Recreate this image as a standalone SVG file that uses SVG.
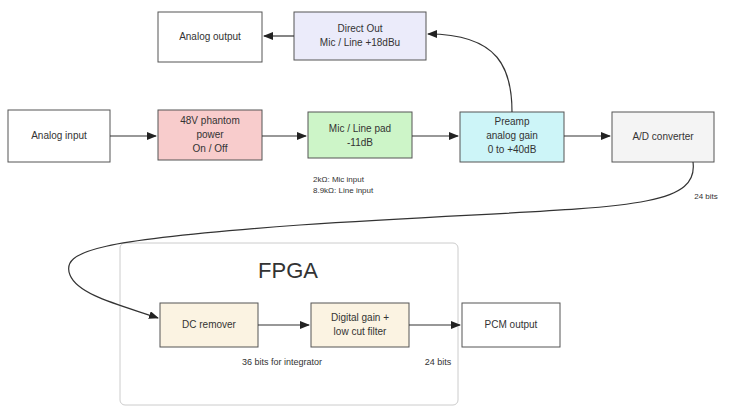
<svg xmlns="http://www.w3.org/2000/svg" width="731" height="412" viewBox="0 0 731 412">
<defs>
<marker id="ah" markerWidth="10" markerHeight="8" refX="9" refY="4" orient="auto" markerUnits="userSpaceOnUse"><path d="M0,0 L10,4 L0,8 z" fill="#222"/></marker>
<style>
.b{stroke:#555;stroke-width:1}
text{font-family:"Liberation Sans",Arial,sans-serif;font-size:10px;fill:#333;text-anchor:middle}
.c{fill:none;stroke:#333;stroke-width:1.2;marker-end:url(#ah)}
.s{font-size:8px;text-anchor:start}
</style>
</defs>
<rect width="731" height="412" fill="#fff"/>
<g id="fpga"><rect x="120" y="243" width="338" height="162" rx="5" fill="#fff" stroke="#ccc"/><text x="288" y="278" style="font-size:22px">FPGA</text></g>
<g id="analog-output"><rect class="b" x="158" y="12" width="104" height="50" fill="#fff"/><text x="210" y="40">Analog output</text></g>
<g id="direct-out"><rect class="b" x="294" y="12" width="132" height="48" fill="#ebebfa"/><text x="360" y="32">Direct Out</text><text x="360" y="46">Mic / Line +18dBu</text></g>
<g id="analog-input"><rect class="b" x="8" y="110" width="102" height="52" fill="#fff"/><text x="59" y="139">Analog input</text></g>
<g id="phantom"><rect class="b" x="158" y="110" width="104" height="50" fill="#f8cccc"/><text x="210" y="124">48V phantom</text><text x="210" y="138">power</text><text x="210" y="152">On / Off</text></g>
<g id="pad"><rect class="b" x="308" y="112" width="104" height="46" fill="#cdf5c8"/><text x="360" y="132">Mic / Line pad</text><text x="360" y="146">-11dB</text></g>
<g id="preamp"><rect class="b" x="460" y="112" width="104" height="50" fill="#cdf5f8"/><text x="512" y="125">Preamp</text><text x="512" y="139">analog gain</text><text x="512" y="153">0 to +40dB</text></g>
<g id="adc"><rect class="b" x="612" y="112" width="102" height="50" fill="#f4f4f4"/><text x="663" y="140">A/D converter</text></g>
<g id="dc"><rect class="b" x="160" y="303" width="98" height="44" fill="#fbf3e2"/><text x="209" y="328">DC remover</text></g>
<g id="dgain"><rect class="b" x="311" y="303" width="98" height="44" fill="#fbf3e2"/><text x="360" y="321">Digital gain +</text><text x="360" y="335">low cut filter</text></g>
<g id="pcm"><rect class="b" x="462" y="303" width="98" height="44" fill="#fff"/><text x="511" y="328">PCM output</text></g>
<g id="labels">
<text class="s" x="313" y="182">2kΩ: Mic input</text>
<text class="s" x="313" y="193">8.9kΩ: Line input</text>
<text x="706" y="199" style="font-size:8px">24 bits</text>
<text x="282" y="365" style="font-size:9px">36 bits for integrator</text>
<text x="438" y="365" style="font-size:9px">24 bits</text>
</g>
<g id="connectors">
<line class="c" x1="110" y1="136" x2="156" y2="136"/>
<line class="c" x1="262" y1="136" x2="306" y2="136"/>
<line class="c" x1="412" y1="136" x2="458" y2="136"/>
<line class="c" x1="564" y1="136" x2="610" y2="136"/>
<line class="c" x1="294" y1="36" x2="264" y2="36"/>
<path class="c" d="M512,112 C512,70 500,34 428,34"/>
<path class="c" d="M693,162 C700,215 600,205 300,225 C100,240 60,250 70,275 C78,295 120,305 158,318"/>
<line class="c" x1="258" y1="325" x2="309" y2="325"/>
<line class="c" x1="409" y1="325" x2="460" y2="325"/>
</g>
</svg>
